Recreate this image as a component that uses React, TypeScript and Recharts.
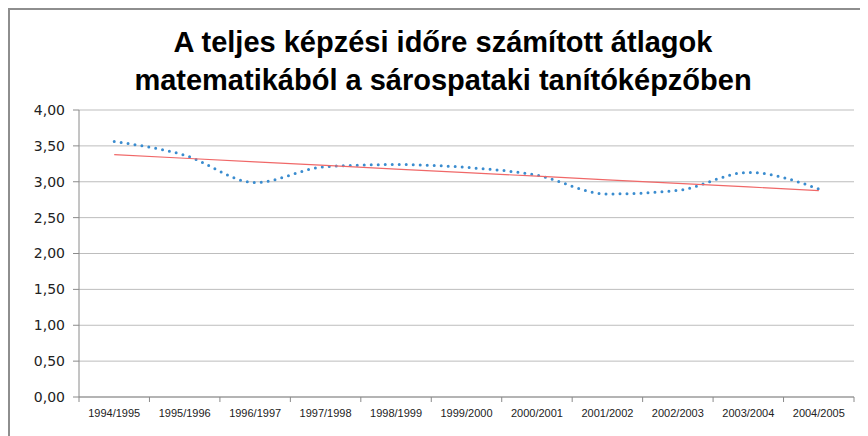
import { LineChart, Line, XAxis, YAxis, CartesianGrid } from "recharts";

const years = [
  "1994/1995", "1995/1996", "1996/1997", "1997/1998", "1998/1999", "1999/2000",
  "2000/2001", "2001/2002", "2002/2003", "2003/2004", "2004/2005",
];
const averages = [3.56, 3.37, 2.99, 3.21, 3.24, 3.2, 3.09, 2.83, 2.88, 3.13, 2.9];
const yTicks = [0, 0.5, 1, 1.5, 2, 2.5, 3, 3.5, 4];

// least squares trendline, same as Excel's linear trendline
const n = averages.length;
const meanX = (n - 1) / 2;
const meanY = averages.reduce((s, v) => s + v, 0) / n;
const slope =
  averages.reduce((s, v, i) => s + (i - meanX) * (v - meanY), 0) /
  averages.reduce((s, _v, i) => s + (i - meanX) * (i - meanX), 0);

const data = years.map((year, i) => ({
  year,
  avg: averages[i],
  trend: meanY + slope * (i - meanX),
}));

const CHART_W = 858;
const CHART_H = 426;
const MARGIN = { top: 100, right: 14, left: 0, bottom: 9 };
const Y_W = 69;
const BAND = (CHART_W - MARGIN.left - MARGIN.right - Y_W) / years.length;
const AXIS = "#8a8a8a";

const fmt = (v: number) => v.toFixed(2).replace(".", ",");

function YearTick(props: any) {
  const { x, y, payload, index } = props;
  const last = index === years.length - 1;
  return (
    <g>
      <line x1={x - BAND / 2} x2={x - BAND / 2} y1={y} y2={y + 5} stroke={AXIS} />
      {last && <line x1={x + BAND / 2} x2={x + BAND / 2} y1={y} y2={y + 5} stroke={AXIS} />}
      <text
        x={x}
        y={y + 20}
        textAnchor="middle"
        fontSize={11}
        fontFamily="'Liberation Sans Narrow', 'Liberation Sans', sans-serif"
        fill="#222"
      >
        {payload.value}
      </text>
    </g>
  );
}

export default function App() {
  return (
    <div
      style={{
        position: "relative",
        width: 860,
        height: 428,
        boxSizing: "border-box",
        borderLeft: "2px solid #8e8e8e",
        borderTop: "2px solid #8e8e8e",
        background: "#fff",
      }}
    >
      <div
        style={{
          position: "absolute",
          top: 13,
          left: 0,
          width: 866,
          textAlign: "center",
          fontFamily: "'Liberation Sans Narrow', 'Liberation Sans', sans-serif",
          fontWeight: "bold",
          fontSize: 29,
          lineHeight: "38px",
          color: "#000",
        }}
      >
        A teljes képzési időre számított átlagok
        <br />
        matematikából a sárospataki tanítóképzőben
      </div>
      <LineChart width={CHART_W} height={CHART_H} data={data} margin={MARGIN}>
        <CartesianGrid vertical={false} stroke="#bdbdbd" />
        <XAxis
          dataKey="year"
          interval={0}
          height={30}
          padding={{ left: BAND / 2, right: BAND / 2 }}
          tickLine={false}
          tickSize={0}
          tickMargin={0}
          stroke={AXIS}
          tick={<YearTick />}
        />
        <YAxis
          domain={[0, 4]}
          ticks={yTicks}
          width={Y_W}
          tickFormatter={fmt}
          tickSize={6}
          tickMargin={8}
          stroke={AXIS}
          tick={{ fill: "#222", fontSize: 14, fontFamily: "'DejaVu Sans', Verdana, sans-serif" }}
        />
        <Line
          dataKey="avg"
          type="monotone"
          stroke="#3a8ccf"
          strokeWidth={3}
          strokeDasharray="0 7"
          strokeLinecap="round"
          dot={false}
          isAnimationActive={false}
        />
        <Line
          dataKey="trend"
          type="linear"
          stroke="#f06868"
          strokeWidth={1.2}
          dot={false}
          isAnimationActive={false}
        />
      </LineChart>
    </div>
  );
}
